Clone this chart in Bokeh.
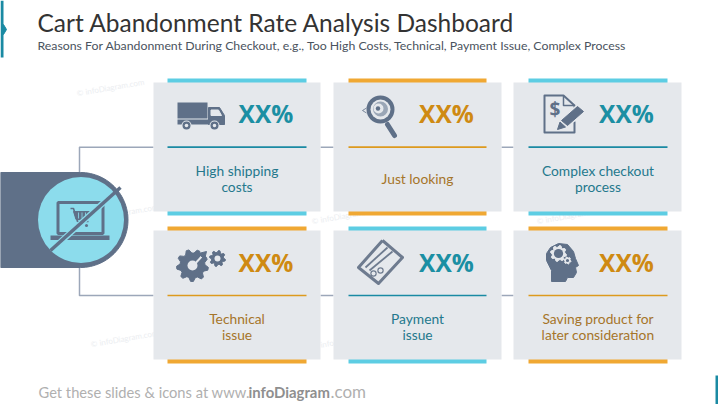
import numpy as np
from bokeh.plotting import figure
from bokeh.models import Range1d
from bokeh.core.properties import value
from bokeh.embed import file_html
from bokeh.resources import INLINE

# ---- content ----
title = "Cart Abandonment Rate Analysis Dashboard"
subtitle = "Reasons For Abandonment During Checkout, e.g., Too High Costs, Technical, Payment Issue, Complex Process"
metric = ["XX%"] * 6
labels = [["High shipping", "costs"], ["Just looking"], ["Complex checkout", "process"],
          ["Technical", "issue"], ["Payment", "issue"], ["Saving product for", "later consideration"]]
themes = ["teal", "orange", "teal", "orange", "teal", "orange"]
footer_a = "Get these slides & icons at www."
footer_b = "infoDiagram"
footer_c = ".com"

# ---- palette ----
CARD = "#e5e8ec"
SLATE = "#5f7088"
ICON = "#5f7088"
LINE = "#9ca7b9"
CY = "#8cdcec"
PAL = {"teal": dict(bar="#5dcde3", rule="#1a8aa3", num="#1b8fa3", txt="#24788c"),
       "orange": dict(bar="#f0a833", rule="#dd9a1e", num="#cf8a12", txt="#a5752a")}

# ---- card geometry ----
col_x = [(153, 320), (333, 501), (513, 681)]
bar_x = [(167, 306), (348, 486), (528, 667)]
row_y = [(82, 211), (230, 359)]
rule_y = [146.7, 295]
num_y = [112.5, 261.5]
num_x = [265.5, 446, 626]
text_y = [(170, 186), (318, 334)]

p = figure(width=718, height=404, x_range=Range1d(0, 718), y_range=Range1d(404, 0),
           output_backend="svg", toolbar_location=None, min_border=0)
p.axis.visible = False
p.grid.visible = False
p.outline_line_color = None
p.background_fill_color = "white"
p.border_fill_color = "white"
p.styles = {"position": "absolute", "left": "0px", "top": "0px"}


def txt(x, y, s, size, color, style="normal", font="Lato", align="center", angle=0):
    p.text([x], [y], text=[s], text_font=value(font), text_font_size=f"{size}px", text_color=color,
           text_font_style=style, text_align=align, text_baseline="middle", angle=angle)


def poly(pts, color, line=None, w=1):
    xs, ys = zip(*pts)
    p.patch(list(xs), list(ys), fill_color=color, line_color=line or color, line_width=w)


def seg(pts, color, w=1.5, cap="butt"):
    xs, ys = zip(*pts)
    p.line(list(xs), list(ys), line_color=color, line_width=w, line_cap=cap, line_join="round")


def disc(x, y, r, color):
    p.circle([x], [y], radius=r, fill_color=color, line_color=None)


def gear(cx, cy, ro, ri, hole, n, color, hole_color):
    a = np.linspace(0, 2 * np.pi, n * 4, endpoint=False) + 0.12
    r = np.tile([ro, ro, ri, ri], n)
    poly(list(zip(cx + r * np.cos(a), cy + r * np.sin(a))), color)
    disc(cx, cy, hole, hole_color)


# ---- watermarks ----
for wx, wy in [(110, 87), (124, 338), (390, 87), (124, 212), (570, 215), (345, 215), (345, 340)]:
    txt(wx, wy, "© infoDiagram.com", 8, "#eceef1", angle=0.17)

# ---- accents ----
p.quad(left=[0], right=[3], top=[0], bottom=[57], fill_color="#1a8aa3", line_color=None)
poly([(3, 24), (6, 29), (3, 34)], "#1a8aa3")
p.quad(left=[715], right=[718], top=[375], bottom=[404], fill_color="#1a8aa3", line_color=None)

# ---- connectors ----
seg([(153, rule_y[0]), (79, rule_y[0]), (79, 175)], LINE)
seg([(153, rule_y[1]), (79, rule_y[1]), (79, 265)], LINE)
for y in rule_y:
    seg([(320, y), (333, y)], LINE)
    seg([(501, y), (513, y)], LINE)

# ---- left badge ----
t = np.linspace(-np.pi / 2, np.pi / 2, 60)
band = [(0, 172)] + list(zip(80 + 47.5 * np.cos(t), 219.5 + 47.5 * np.sin(t))) + [(0, 267)]
poly(band, SLATE)
disc(80.5, 219.5, 43, CY)
# laptop
p.quad(left=[57.5], right=[102.5], top=[202], bottom=[233], fill_color=None, line_color=SLATE, line_width=3)
p.quad(left=[50], right=[109], top=[235], bottom=[239.5], fill_color=SLATE, line_color=None)
# cart
seg([(70, 208), (73, 208), (77, 221), (88, 221)], SLATE, 1.6)
poly([(73, 211), (90, 211), (87, 219), (75.5, 219)], SLATE)
for vx in (78, 81.5, 85):
    seg([(vx, 212), (vx, 218)], CY, 0.8)
disc(78, 225, 1.5, SLATE)
disc(86, 225, 1.5, SLATE)
# slash
seg([(113, 193), (56, 245)], CY, 6)
seg([(120, 187), (50, 250)], SLATE, 3.5)

# ---- cards ----
for i in range(6):
    r, c = divmod(i, 3)
    th = PAL[themes[i]]
    x0, x1 = col_x[c]
    y0, y1 = row_y[r]
    bx0, bx1 = bar_x[c]
    p.quad(left=[bx0], right=[bx1], top=[y0 - 4], bottom=[y0 + 1], fill_color=th["bar"], line_color=None)
    p.quad(left=[bx0], right=[bx1], top=[y1 - 1], bottom=[y1 + 4], fill_color=th["bar"], line_color=None)
    p.quad(left=[x0], right=[x1], top=[y0], bottom=[y1], fill_color=CARD, line_color=None)
    seg([(bx0, rule_y[r]), (bx1, rule_y[r])], th["rule"], 1.7)
    txt(num_x[c], num_y[r], metric[i], 24.5, th["num"], style="bold", font="Open Sans")
    lines = labels[i]
    if len(lines) == 1:
        txt((bx0 + bx1) / 2, sum(text_y[r]) / 2, lines[0], 13.8, th["txt"])
    else:
        for s, y in zip(lines, text_y[r]):
            txt((bx0 + bx1) / 2, y, s, 13.8, th["txt"])

# ---- truck ----
p.quad(left=[177], right=[207], top=[102], bottom=[118], fill_color=ICON, line_color=None)
p.quad(left=[177], right=[224], top=[119], bottom=[124], fill_color=ICON, line_color=None)
poly([(208, 107), (219, 107), (224, 115), (224, 124), (208, 124)], ICON)
poly([(210.5, 109.5), (218, 109.5), (221, 115), (210.5, 115)], CARD)
for wx in (186, 214):
    disc(wx, 125, 5, CARD)
    disc(wx, 125, 4, ICON)
    disc(wx, 125, 1.8, CARD)

# ---- magnifier ----
disc(380, 109, 14, ICON)
disc(380, 109, 10, CARD)
disc(380, 108.5, 7.5, "#9aa6b6")
disc(378, 108, 5, CARD)
disc(377.5, 108, 2.2, ICON)
seg([(387, 124), (394, 135)], ICON, 5, "round")
seg([(366, 107.5), (362, 110), (366, 112.5)], ICON, 0.8)

# ---- document and pencil ----
seg([(574, 121), (574, 132), (544, 132), (544, 95), (563, 95), (574, 105), (574, 109)], ICON, 2)
seg([(563, 95), (563, 105), (574, 105)], ICON, 1.5)
txt(554.5, 108, "$", 19, ICON, style="bold", font="Open Sans")
poly([(557, 129), (560, 119), (578, 104), (585, 110), (567, 126)], CARD, CARD, 2)
poly([(561, 120), (577, 106), (583, 111), (567, 125)], ICON)
poly([(557, 129), (559.5, 121.5), (565, 126.5)], ICON)

# ---- gears ----
gear(192, 265, 16, 12.5, 5, 9, ICON, CARD)
gear(217, 258, 8, 6, 3, 8, ICON, CARD)
seg([(192, 266), (203, 254)], CARD, 2)
poly([(198, 253), (206, 251), (204, 259)], ICON)

# ---- payment card ----
seg([(382, 240), (402, 257), (378, 283), (358, 267), (382, 240)], "#6e7b8f", 3)
seg([(365, 267), (387, 247)], "#6e7b8f", 1.8)
seg([(369, 270), (392, 251)], "#6e7b8f", 1.8)
for cx, cy in [(373, 273), (380, 270)]:
    disc(cx, cy, 3.2, "#6e7b8f")
    disc(cx, cy, 2, CARD)

# ---- head ----
head_x = [551, 551, 546, 546, 550, 558, 567, 573, 575, 578, 575, 576, 573, 567, 565]
head_y = [281, 270, 260, 253, 247, 243, 244, 251, 258, 265, 267, 272, 277, 277, 281]
p.patch(head_x, head_y, fill_color=ICON, line_color=ICON, line_width=1)
gear(558, 253, 8, 6.3, 4.6, 8, CARD, ICON)
gear(567, 260, 3.6, 2.7, 1.6, 6, CARD, ICON)

# ---- titles ----
txt(37, 21.5, title, 24.5, "#333333", align="left")
txt(37, 44.5, subtitle, 12.3, "#4a535e", align="left")
txt(38, 391, footer_a, 14.7, "#b0b0b0", align="left")
txt(248, 391, footer_b, 14.9, "#8f8f8f", style="bold", align="left")
txt(330, 391, footer_c, 17, "#b0b0b0", align="left")

open("out.html", "w").write(file_html(p, INLINE))
